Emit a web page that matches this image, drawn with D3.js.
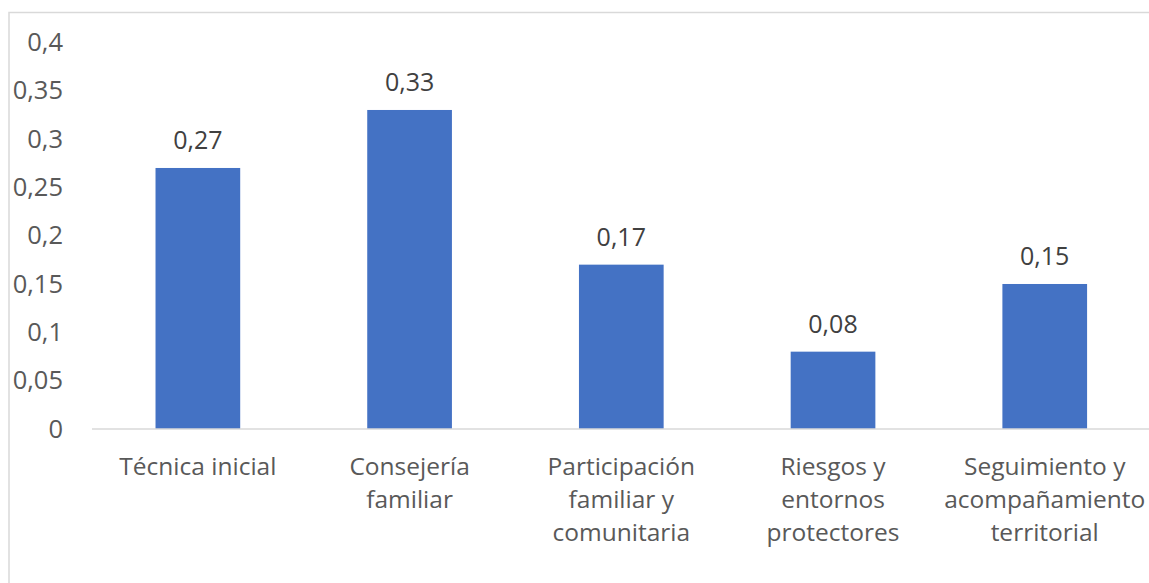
<!DOCTYPE html>
<html><head><meta charset="utf-8">
<script src="https://cdn.jsdelivr.net/npm/d3@7"></script>
<style>
html,body{margin:0;padding:0;background:#fff;}
svg{display:block;}
</style></head>
<body>
<svg id="chart" width="1149" height="583"></svg>
<script>
const categories = ["Técnica inicial", "Consejería familiar", "Participación familiar y comunitaria", "Riesgos y entornos protectores", "Seguimiento y acompañamiento territorial"];
const categoryLines = [["Técnica inicial"], ["Consejería", "familiar"], ["Participación", "familiar y", "comunitaria"], ["Riesgos y", "entornos", "protectores"], ["Seguimiento y", "acompañamiento", "territorial"]];
const values = [0.27, 0.33, 0.17, 0.08, 0.15];
const yTicks = [0, 0.05, 0.1, 0.15, 0.2, 0.25, 0.3, 0.35, 0.4];

const svg = d3.select("#chart");
const font = "'Open Sans', sans-serif";
const fmt = v => String(v).replace(".", ",");

// outer border
svg.append("rect").attr("x", 9).attr("y", 12.5).attr("width", 1200).attr("height", 700)
  .attr("fill", "none").attr("stroke", "#d9d9d9").attr("stroke-width", 1.5);

const x = d3.scaleBand().domain(categories).range([92, 1150.6]).paddingInner(0.6).paddingOuter(0.3);
const y = d3.scaleLinear().domain([0, 0.4]).range([429, 42.3]);

// y axis labels
const yAxis = d3.axisLeft(y).tickValues(yTicks).tickFormat(fmt).tickSize(0).tickPadding(0);
const gy = svg.append("g").attr("transform", "translate(63,0)").call(yAxis);
gy.select(".domain").remove();
gy.selectAll("text").attr("font-family", font).attr("font-size", 25.5).attr("fill", "#595959");

// bars
svg.append("g").selectAll("rect").data(values).join("rect")
  .attr("x", (d, i) => x(categories[i]))
  .attr("y", d => y(d))
  .attr("width", x.bandwidth())
  .attr("height", d => y(0) - y(d))
  .attr("fill", "#4472c4");

// x axis
const xAxis = d3.axisBottom(x).tickSize(0).tickFormat("");
const gx = svg.append("g").attr("transform", `translate(0,${y(0)})`).call(xAxis);
gx.select(".domain").attr("stroke", "#d9d9d9").attr("stroke-width", 1.5).attr("d", "M92,0H1149");

// category labels
categories.forEach((c, i) => {
  const t = svg.append("text")
    .attr("x", x(c) + x.bandwidth() / 2)
    .attr("y", 474.5)
    .attr("text-anchor", "middle")
    .attr("font-family", font).attr("font-size", 24.5).attr("fill", "#595959");
  categoryLines[i].forEach((ln, j) => {
    t.append("tspan").attr("x", x(c) + x.bandwidth() / 2).attr("dy", j === 0 ? 0 : 33).text(ln);
  });
});

// data labels
svg.append("g").selectAll("text").data(values).join("text")
  .attr("x", (d, i) => x(categories[i]) + x.bandwidth() / 2)
  .attr("y", d => y(d) - 19)
  .attr("text-anchor", "middle")
  .attr("font-family", font).attr("font-size", 25).attr("fill", "#404040")
  .text(fmt);
</script>
</body></html>
